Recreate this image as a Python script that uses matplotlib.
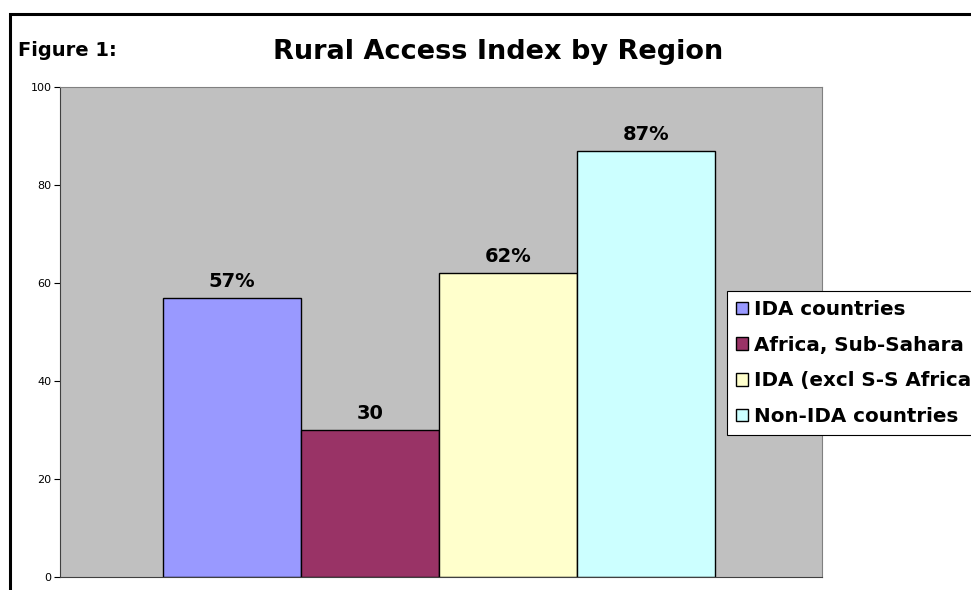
import matplotlib
matplotlib.use("Agg")
import matplotlib.pyplot as plt
from matplotlib.patches import Rectangle

plt.rcParams['font.family'] = ['DejaVu Sans']

# data
series = ["IDA countries", "Africa, Sub-Sahara", "IDA (excl S-S Africa)", "Non-IDA countries"]
values = [57, 30, 62, 87]
labels = ["57%", "30", "62%", "87%"]
colors = ["#9999FF", "#993366", "#FFFFCC", "#CCFFFF"]
yticks = [0, 20, 40, 60, 80, 100]

W, H = 971, 590
fig = plt.figure(figsize=(W / 100, H / 100), dpi=100)

# outer chart frame (runs off right/bottom edges)
fig.patches.append(Rectangle((10 / W, -0.1), 1.2, 1 - 14 / H + 0.1,
                             transform=fig.transFigure, fill=False,
                             edgecolor="black", linewidth=2.2))

ax = fig.add_axes([60 / W, 13 / H, 762 / W, 490 / H])
ax.set_facecolor("#C0C0C0")

x = list(range(len(values)))
bars = ax.bar(x, values, width=1.0, color=colors, edgecolor="black", linewidth=1.0)
for xi, v, lab in zip(x, values, labels):
    ax.text(xi, v + 1.4, lab, ha="center", va="bottom", fontsize=14, fontweight="bold")

ax.set_xlim(-0.5 - 0.75, len(values) - 0.5 + 0.78)
ax.set_ylim(0, 100)
ax.set_yticks(yticks)
ax.tick_params(axis="y", labelsize=8, length=4, direction="out", pad=2)
ax.set_xticks([])
for side in ["top", "right"]:
    ax.spines[side].set_color("#808080")
ax.spines["left"].set_color("#404040")
ax.spines["bottom"].set_color("#404040")

fig.text(18 / W, 1 - 50 / H, "Figure 1:", fontsize=14, fontweight="bold", va="center")
fig.text(498 / W, 1 - 52 / H, "Rural Access Index by Region", fontsize=19.5,
         fontweight="bold", ha="center", va="center")

# legend runs past the right edge, as in the original
leg = fig.legend(bars, series, loc="upper left", bbox_to_anchor=(727 / W, 1 - 291 / H),
                 frameon=True, fancybox=False, framealpha=1, prop={"weight": "bold", "size": 14.3},
                 handlelength=0.6, handleheight=0.6, handletextpad=0.3,
                 labelspacing=0.84, borderpad=0.45, borderaxespad=0)
leg.get_frame().set_edgecolor("black")
leg.get_frame().set_linewidth(0.8)

fig.savefig("out.png", dpi=100)
